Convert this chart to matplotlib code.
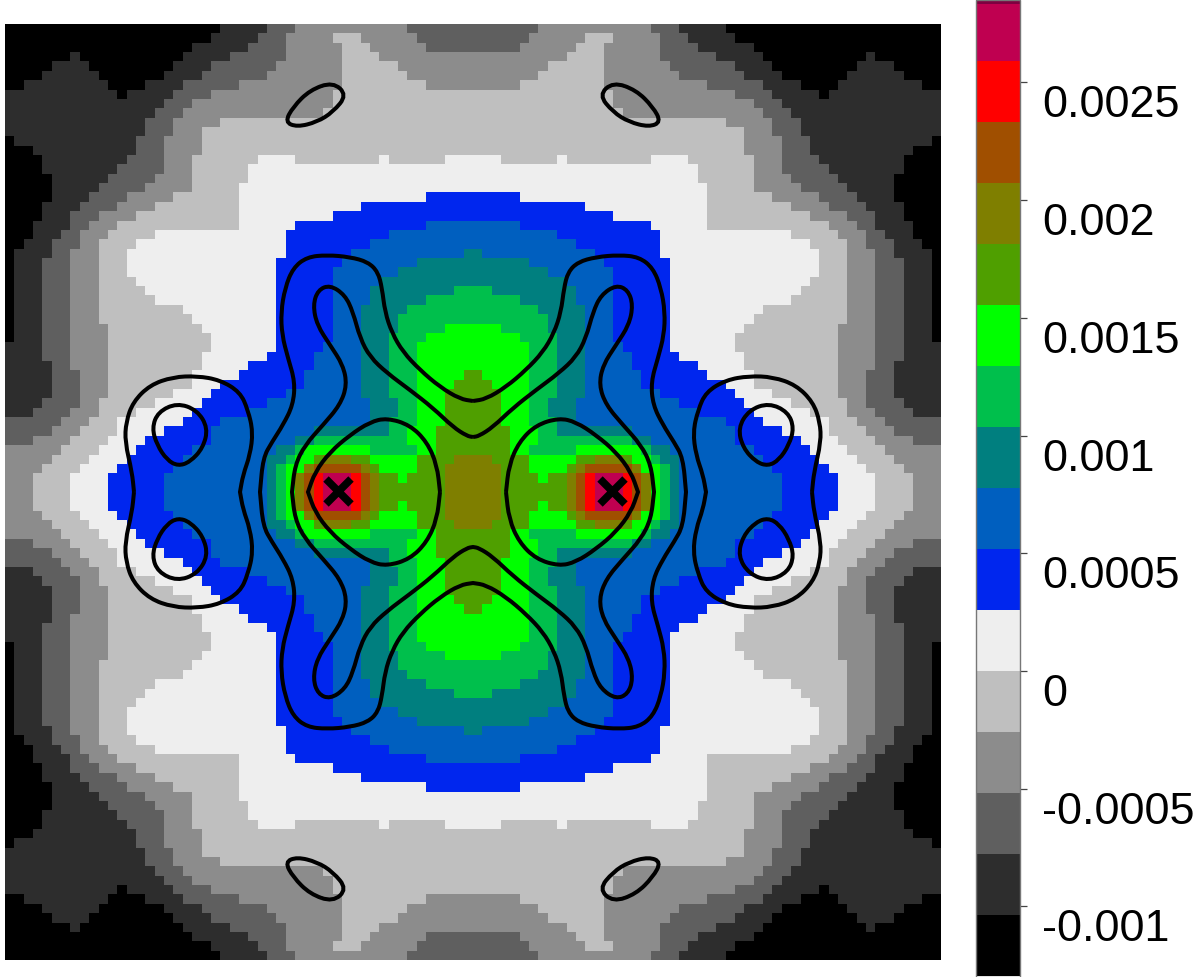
import numpy as np
import matplotlib
matplotlib.use("Agg")
import matplotlib.pyplot as plt
from matplotlib.cm import ScalarMappable
from matplotlib.colors import BoundaryNorm, ListedColormap
from matplotlib.patches import PathPatch
from matplotlib.path import Path
from matplotlib.transforms import ScaledTranslation

plt.rcParams["font.family"] = ["Liberation Sans", "DejaVu Sans"]

# upper left quadrant of the map: "band:end column" for each row
QUADRANT = [
    "0:23 1:28 2:31 3:43 2:50",
    "0:22 1:27 2:30 3:35 4:38 3:44 2:50",
    "0:20 1:26 2:30 3:36 4:39 3:45 2:50",
    "0:7 1:8 0:19 1:24 2:30 3:36 4:40 3:50",
    "0:5 1:9 0:18 1:22 2:29 3:36 4:42 3:50",
    "0:4 1:10 0:17 1:21 2:28 3:36 4:43 3:50",
    "0:2 1:11 0:15 1:19 2:25 3:36 4:45 3:50",
    "1:12 0:13 1:18 2:22 3:35 4:50",
    "1:17 2:20 3:35 4:50",
    "1:16 2:19 3:34 4:50",
    "1:15 2:18 3:23 4:50",
    "1:15 2:18 3:21 4:50",
    "0:1 1:14 2:17 3:21 4:50",
    "0:3 1:14 2:17 3:21 4:50",
    "0:4 1:13 2:17 3:20 4:27 5:31 4:40 5:41 4:47 5:50",
    "0:4 1:12 2:17 3:20 4:26 5:50",
    "0:5 1:11 2:16 3:20 4:26 5:50",
    "0:5 1:10 2:15 3:20 4:25 5:50",
    "0:5 1:9 2:13 3:18 4:25 5:45 6:50",
    "0:4 1:8 2:12 3:16 4:25 5:38 6:50",
    "0:4 1:7 2:10 3:14 4:25 5:35 6:50",
    "0:3 1:7 2:9 3:12 4:25 5:31 6:45 7:50",
    "0:3 1:6 2:8 3:11 4:16 5:30 6:41 7:50",
    "0:2 1:5 2:8 3:10 4:14 5:30 6:39 7:50",
    "0:1 1:5 2:7 3:10 4:13 5:30 6:37 7:49 8:50",
    "0:1 1:4 2:7 3:10 4:13 5:29 6:36 7:44 8:50",
    "0:1 1:4 2:7 3:10 4:13 5:29 6:35 7:42 8:50",
    "0:1 1:4 2:7 3:10 4:14 5:29 6:35 7:40 8:50",
    "0:1 1:4 2:7 3:10 4:15 5:29 6:35 7:39 8:48 9:50",
    "0:1 1:4 2:7 3:10 4:16 5:29 6:35 7:39 8:45 9:50",
    "0:1 1:4 2:7 3:10 4:19 5:29 6:35 7:38 8:43 9:50",
    "0:1 1:4 2:7 3:10 4:20 5:29 6:35 7:38 8:42 9:50",
    "0:1 1:4 2:7 3:11 4:21 5:29 6:35 7:38 8:42 9:47 a:50",
    "0:1 1:4 2:7 3:11 4:22 5:29 6:35 7:38 8:41 9:45 a:50",
    "1:4 2:7 3:11 4:22 5:29 6:34 7:38 8:41 9:44 a:50",
    "1:4 2:7 3:11 4:21 5:28 6:33 7:38 8:41 9:44 a:50",
    "1:5 2:7 3:11 4:21 5:26 6:33 7:38 8:41 9:44 a:50",
    "1:5 2:8 3:11 4:20 5:25 6:32 7:38 8:41 9:44 a:49 b:50",
    "1:5 2:8 3:11 4:20 5:23 6:32 7:38 8:41 9:44 a:48 b:50",
    "1:5 2:8 3:11 4:18 5:22 6:30 7:38 8:41 9:44 a:47 b:50",
    "1:4 2:8 3:10 4:16 5:21 6:28 7:39 8:42 9:44 a:47 b:50",
    "1:3 2:7 3:10 4:14 5:20 6:26 7:39 8:42 9:44 a:47 b:50",
    "2:6 3:9 4:12 5:19 6:23 7:39 8:41 9:44 a:47 b:50",
    "2:5 3:8 4:12 5:17 6:22 7:33 8:41 9:43 a:46 b:50",
    "2:3 3:7 4:11 5:15 6:22 7:31 8:33 9:43 a:46 b:50",
    "3:6 4:10 5:14 6:20 7:29 8:31 9:32 a:39 9:44 a:46 b:50",
    "3:5 4:9 5:13 6:19 7:28 8:30 9:31 a:33 b:34 c:37 b:39 a:44 b:48 c:50",
    "3:4 4:8 5:12 6:18 7:28 8:29 9:30 a:32 c:33 d:38 c:39 b:40 a:44 b:47 c:50",
    "3:3 4:7 5:11 6:17 7:28 8:29 9:30 a:31 c:32 d:33 e:34 f:37 e:38 d:39 c:40 b:42 a:43 b:47 c:50",
    "3:3 4:7 5:11 6:17 7:28 8:29 9:30 a:31 c:32 d:33 e:34 f:37 e:38 d:39 c:40 b:47 c:50",
]

band_colors = ["#000000", "#2d2d2d", "#5f5f5f", "#8c8c8c", "#bfbfbf", "#eeeeee",
               "#0026ee", "#005fbf", "#007f7f", "#00bf4c", "#00ff00", "#4f9f00",
               "#7f7f00", "#a04f00", "#ff0000", "#bf0050", "#7f0040"]
band_edges = [-0.001295, -0.001036, -0.000777, -0.000518, -0.000259, 0.0, 0.000259,
              0.000518, 0.000777, 0.001036, 0.001295, 0.001554, 0.001813, 0.002072,
              0.002331, 0.00259, 0.002834, 0.00285]
tick_values = [-0.001, -0.0005, 0, 0.0005, 0.001, 0.0015, 0.002, 0.0025]
tick_labels = ["-0.001", "-0.0005", "0", "0.0005", "0.001", "0.0015", "0.002", "0.0025"]

# contour lines, upper left part only, the rest is the mirror image
ring_outer = [(0, 91), (-13, 93), (-33, 105), (-53, 122), (-70, 140), (-81, 159), (-88, 180),
              (-91, 204), (-95, 220), (-105, 230), (-123, 235), (-146, 237), (-166, 235),
              (-180, 224), (-188, 204), (-192, 180), (-191, 157), (-185, 134), (-178, 110),
              (-180, 87), (-190, 67), (-201, 50), (-210, 34), (-213, 0)]
ring_inner = [(0, 55), (-6, 56), (-20, 65), (-40, 84), (-63, 102), (-86, 119), (-103, 135),
              (-113, 154), (-120, 180), (-128, 197), (-143, 207), (-155, 202), (-160, 187),
              (-156, 167), (-143, 147), (-130, 127), (-126, 107), (-133, 87), (-150, 67),
              (-168, 47), (-178, 27), (-181, 0)]
bell = [(-33, 0), (-36, 27), (-46, 50), (-63, 67), (-86, 74), (-103, 70), (-123, 57),
        (-143, 40), (-158, 20), (-165, 0)]
side_lobe = [(-339, 0), (-341, 20), (-348, 50), (-347, 70), (-340, 90), (-323, 107),
             (-300, 115), (-276, 116), (-253, 112), (-233, 100), (-225, 82), (-220, 60),
             (-223, 37), (-230, 17), (-233, 0)]
side_loop = [(-296, 89), (-276, 82), (-265, 64), (-270, 44), (-283, 30), (-295, 26),
             (-306, 32), (-316, 47), (-321, 64), (-315, 80)]
corner_oval = [(-140, 410), (-126, 397), (-140, 380), (-156, 370), (-176, 365), (-188, 370),
               (-180, 385), (-163, 402)]
peak_x = [-135, 139]
peak_y = [1, 1]


def parse_rows(rows):
    out = []
    for row in rows:
        vals = []
        for item in row.split():
            band, end = item.split(":")
            vals += [int(band, 16)] * (int(end) - len(vals))
        out.append(vals)
    return np.array(out)


def smooth_closed(points):
    # quadratic segments through the midpoints, so the line has no corners
    pts = np.array(points, dtype=float)
    mids = (pts + np.roll(pts, -1, axis=0)) / 2
    verts = [mids[-1]]
    codes = [Path.MOVETO]
    for p, m in zip(pts, mids):
        verts += [p, m]
        codes += [Path.CURVE3, Path.CURVE3]
    return Path(verts, codes)


def flip(points, sx, sy):
    return [(sx * x, sy * y) for x, y in points]


quad = parse_rows(QUADRANT)
top = np.hstack([quad, quad[:, ::-1]])
grid = np.vstack([top, top[::-1]])
edges = np.array(band_edges)
centers = (edges[:-1] + edges[1:]) / 2

cmap = ListedColormap(band_colors)
norm = BoundaryNorm(edges, cmap.N)

fig = plt.figure(figsize=(12, 9.77), dpi=100)
ax = fig.add_axes([5 / 1200, 1 - 960 / 977, 936 / 1200, 936 / 977])
ax.imshow(centers[grid], cmap=cmap, norm=norm, extent=(-468, 468, -468, 468),
          interpolation="nearest", aspect="auto")

rings = []
for half in (ring_outer, ring_inner):
    rings.append(half + flip(half, 1, -1)[::-1] + flip(half, -1, -1) + flip(half, -1, 1)[::-1])
for half in (bell, side_lobe):
    loop = half + flip(half, 1, -1)[::-1]
    rings.append(loop)
    rings.append(flip(loop, -1, 1))
for loop in (side_loop, corner_oval):
    for sx in (1, -1):
        for sy in (1, -1):
            rings.append(flip(loop, sx, sy))
for ring in rings:
    ax.add_patch(PathPatch(smooth_closed(ring), fill=False, ec="black", lw=2.9))

ax.plot(peak_x, peak_y, ls="none", marker="x", color="black", ms=18, mew=5.5)
ax.set_xlim(-468, 468)
ax.set_ylim(-468, 468)
ax.axis("off")

cax = fig.add_axes([976 / 1200, 0, 44 / 1200, 1])
cb = fig.colorbar(ScalarMappable(norm=norm, cmap=cmap), cax=cax, ticks=tick_values,
                  spacing="proportional")
cb.ax.set_ylim(-0.001300, 0.00285)
cb.ax.set_yticklabels(tick_labels)
cb.ax.tick_params(length=5, width=0.9, color="#444444", labelsize=32.4, pad=11)
cb.ax.minorticks_off()
cb.outline.set_edgecolor("#777777")
cb.outline.set_linewidth(1)
shift = ScaledTranslation(0, -19 / 100, fig.dpi_scale_trans)
for label in cb.ax.get_yticklabels():
    label.set_transform(label.get_transform() + shift)

fig.savefig("out.png", dpi=100)
